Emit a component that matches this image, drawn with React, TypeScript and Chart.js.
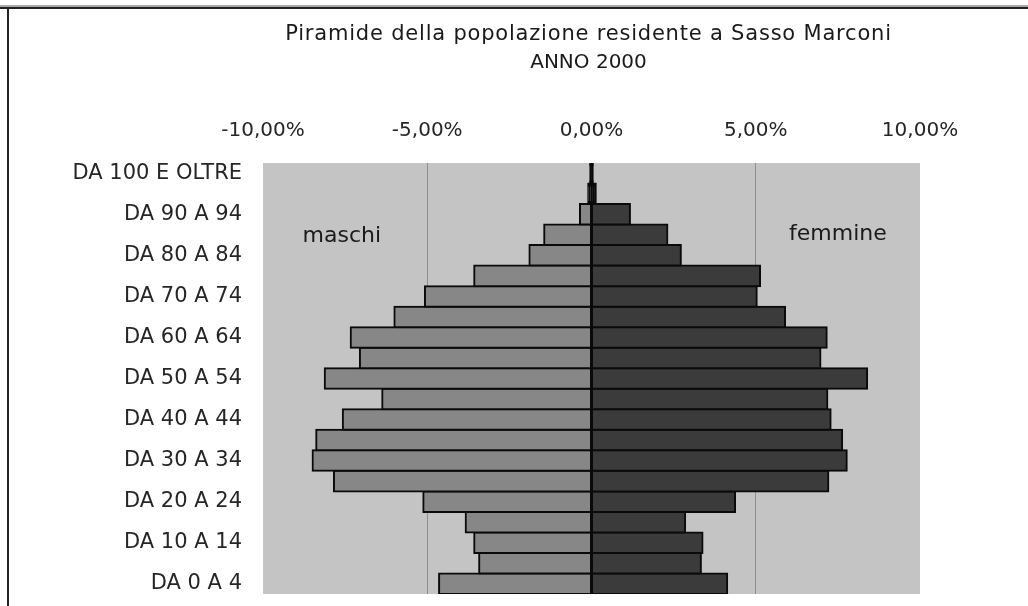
import { useEffect, useRef } from "react";
import { Chart, registerables } from "chart.js";

Chart.register(...registerables);

const ageGroups = [
  "DA 0 A 4", "DA 5 A 9", "DA 10 A 14", "DA 15 A 19", "DA 20 A 24",
  "DA 25 A 29", "DA 30 A 34", "DA 35 A 39", "DA 40 A 44", "DA 45 A 49",
  "DA 50 A 54", "DA 55 A 59", "DA 60 A 64", "DA 65 A 69", "DA 70 A 74",
  "DA 75 A 79", "DA 80 A 84", "DA 85 A 89", "DA 90 A 94", "DA 95 A 99",
  "DA 100 E OLTRE",
];
const maschi = [
  -4.64, -3.42, -3.57, -3.83, -5.12, -7.84, -8.49, -8.38, -7.57, -6.37,
  -8.12, -7.05, -7.33, -6.0, -5.07, -3.57, -1.89, -1.44, -0.35, -0.1, -0.04,
];
const femmine = [
  4.13, 3.33, 3.38, 2.85, 4.37, 7.21, 7.77, 7.63, 7.28, 7.18,
  8.39, 6.97, 7.16, 5.89, 5.03, 5.13, 2.72, 2.31, 1.17, 0.13, 0.04,
];
const xMin = -10;
const xMax = 10;
const xStep = 5;
const titleLines = ["Piramide della popolazione residente a Sasso Marconi", "ANNO 2000"];
const seriesNames = ["maschi", "femmine"];

const FONT = "'DejaVu Sans', sans-serif";
const EDGE = "#0a0a0a";

const decorPlugin = {
  id: "decor",
  beforeDraw(chart: any) {
    const { ctx, chartArea } = chart;
    ctx.save();
    ctx.fillStyle = "#c4c4c4";
    ctx.fillRect(chartArea.left, chartArea.top, chartArea.right - chartArea.left, chartArea.bottom - chartArea.top);
    ctx.restore();
  },
  afterDraw(chart: any) {
    const { ctx, chartArea, scales } = chart;
    ctx.save();
    // frame
    ctx.fillStyle = "#a8a8a8";
    ctx.fillRect(0, 5, chart.width, 2);
    ctx.fillStyle = "#222222";
    ctx.fillRect(0, 7, chart.width, 2);
    ctx.fillRect(7, 7, 2, chart.height);
    // title
    ctx.fillStyle = "#1a1a1a";
    ctx.textAlign = "center";
    ctx.textBaseline = "middle";
    const cx = (chartArea.left + chartArea.right) / 2 - 3;
    ctx.font = `21px ${FONT}`;
    (ctx as any).letterSpacing = "0.8px";
    ctx.fillText(titleLines[0], cx, 35);
    ctx.font = `20px ${FONT}`;
    (ctx as any).letterSpacing = "0px";
    ctx.fillText(titleLines[1], cx, 63);
    // series labels
    ctx.font = `22px ${FONT}`;
    const yPos = scales.y.getPixelForValue(17) + 1;
    ctx.fillText(seriesNames[0], scales.x.getPixelForValue(-7.6), yPos);
    ctx.fillText(seriesNames[1], scales.x.getPixelForValue(7.5), yPos - 2);
    ctx.restore();
  },
};

const fillFor = (color: string) => (c: any) =>
  c.raw !== undefined && Math.abs(c.raw) < 0.3 ? EDGE : color;

export default function App() {
  const ref = useRef<HTMLCanvasElement>(null);
  useEffect(() => {
    document.body.style.margin = "0";
    const chart = new Chart(ref.current!, {
      type: "bar",
      data: {
        labels: ageGroups,
        datasets: [
          {
            label: seriesNames[0],
            data: maschi,
            backgroundColor: fillFor("#878787"),
            borderColor: EDGE,
            borderWidth: 2,
            borderSkipped: false,
            inflateAmount: 1,
          },
          {
            label: seriesNames[1],
            data: femmine,
            backgroundColor: fillFor("#3b3b3b"),
            borderColor: EDGE,
            borderWidth: 2,
            borderSkipped: false,
            inflateAmount: 1,
          },
        ],
      },
      options: {
        indexAxis: "y",
        animation: false,
        responsive: false,
        maintainAspectRatio: false,
        datasets: { bar: { barPercentage: 1, categoryPercentage: 1 } },
        layout: { padding: { top: 95, right: 108, bottom: 12, left: 0 } },
        plugins: {
          legend: { display: false },
          title: { display: false },
          tooltip: { enabled: false },
        },
        scales: {
          x: {
            position: "top",
            stacked: true,
            min: xMin,
            max: xMax,
            afterFit: (s: any) => { s.height = 68; },
            ticks: {
              stepSize: xStep,
              padding: 20,
              color: "#262626",
              font: { family: FONT, size: 20 },
              callback: (v: any) => `${Number(v) === 0 ? "0,00" : Number(v).toFixed(2).replace(".", ",")}%`,
            },
            grid: {
              drawTicks: false,
              lineWidth: 1,
              color: (c: any) => (c.tick && Math.abs(c.tick.value) === 5 ? "#8e8e8e" : "rgba(0,0,0,0)"),
            },
            border: { display: false },
          },
          y: {
            stacked: true,
            reverse: true,
            afterFit: (s: any) => { s.width = 263; s.paddingTop = 0; s.paddingBottom = 0; },
            ticks: {
              autoSkip: false,
              padding: 21,
              color: "#262626",
              font: { family: FONT, size: 21 },
              callback: (_v: any, i: number) => (i % 2 === 0 ? ageGroups[i] : ""),
            },
            grid: { display: false, drawTicks: false },
            border: { display: false },
          },
        },
      },
      plugins: [decorPlugin],
    } as any);
    return () => chart.destroy();
  }, []);
  return (
    <div style={{ position: "absolute", left: 0, top: 0, width: 1028, height: 606 }}>
      <canvas ref={ref} width={1028} height={606} style={{ display: "block" }} />
    </div>
  );
}
